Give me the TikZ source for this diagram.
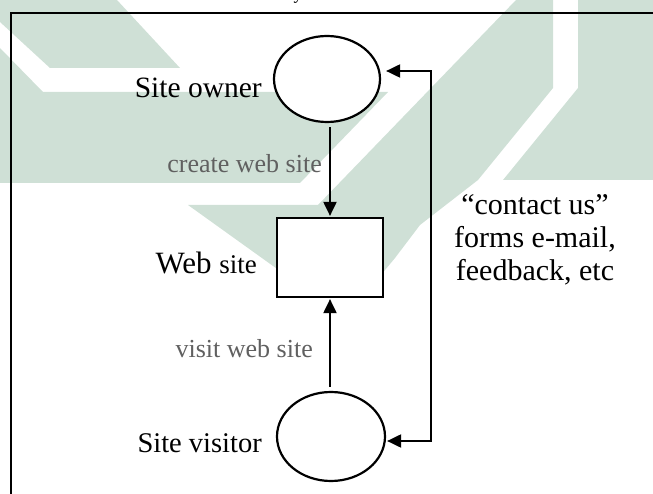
\documentclass[tikz,border=0pt]{standalone}
\usepackage{fontspec}
\setmainfont{Liberation Serif}
\usetikzlibrary{arrows.meta,shapes.geometric}
\definecolor{wm}{RGB}{207,224,214}
\definecolor{lblgray}{RGB}{96,96,96}
\begin{document}
\begin{tikzpicture}[x=1pt,y=-1pt,
  bubble/.style={ellipse,draw,line width=2.2pt,fill=white,inner sep=0pt},
  sitebox/.style={rectangle,draw,line width=2.2pt,fill=white,minimum width=106pt,minimum height=79pt,inner sep=0pt},
  tip/.tip={Triangle[length=14pt,width=13pt]},
  arr/.style={line width=2pt,-tip},
  biarr/.style={line width=2pt,tip-tip},
  big/.style={font=\fontsize{29.5}{33}\selectfont,inner sep=0pt},
  lbl/.style={font=\fontsize{26}{30}\selectfont,text=lblgray,inner sep=0pt}]
\useasboundingbox (0,0) rectangle (653,494);
\clip (0,0) rectangle (653,494);
% watermark
\fill[wm] (0,0) -- (117,0) -- (180,68) -- (50,68) -- (0,22) -- cycle;
\fill[wm] (0,48) -- (43,92) -- (388,92) -- (300,183) -- (0,183) -- cycle;
\fill[wm] (188,205) -- (318,205) -- (516,0) -- (553,0) -- (553,88) -- (478,180) -- (420,225) -- (395,258) -- (380,276) -- (287,276) -- cycle;
\fill[wm] (578,0) -- (653,0) -- (653,180) -- (503,180) -- (578,88) -- cycle;
% caption fragment
\node[font=\fontsize{18}{20}\selectfont,anchor=base,inner sep=0pt] (capfrag) at (298,0) {y};
% frame
\draw[line width=2.5pt] (11,13) rectangle (680,520);
% nodes
\node[bubble,minimum width=106pt,minimum height=86pt] (owner) at (327,79) {};
\node[sitebox] (web) at (330,257.5) {};
\node[bubble,minimum width=108pt,minimum height=89pt] (visitor) at (331,436.5) {};
\coordinate (c1) at (431,71);
\coordinate (c2) at (431,441);
% connectors
\draw[arr,shorten <=4pt,shorten >=1pt] (web.north |- owner.south) -- (web.north);
\draw[arr,shorten <=4pt,shorten >=1pt] (web.south |- visitor.north) -- (web.south);
\draw[biarr,shorten <=5pt,shorten >=1pt] (owner.east |- c1) -- (c1) -- (c2) -- (visitor.east |- c2);
% labels
\node[big,anchor=base east] (ownerlbl) at (262,98) {Site owner};
\node[inner sep=0pt,anchor=base east] (weblbl) at (257,273) {\fontsize{31}{35}\selectfont Web \fontsize{27}{30}\selectfont site};
\node[inner sep=0pt,font=\fontsize{28.5}{31}\selectfont,anchor=base east] (visitorlbl) at (262,452) {Site visitor};
\node[lbl,anchor=base east] (createlbl) at (322,173) {create web site};
\node[lbl,anchor=base east] (visitlbl) at (313,357) {visit web site};
\node[font=\fontsize{30}{33}\selectfont,inner sep=0pt,align=center,anchor=center] (contact) at (535,240) {“contact us”\\forms e-mail,\\feedback, etc};
\end{tikzpicture}
\end{document}
